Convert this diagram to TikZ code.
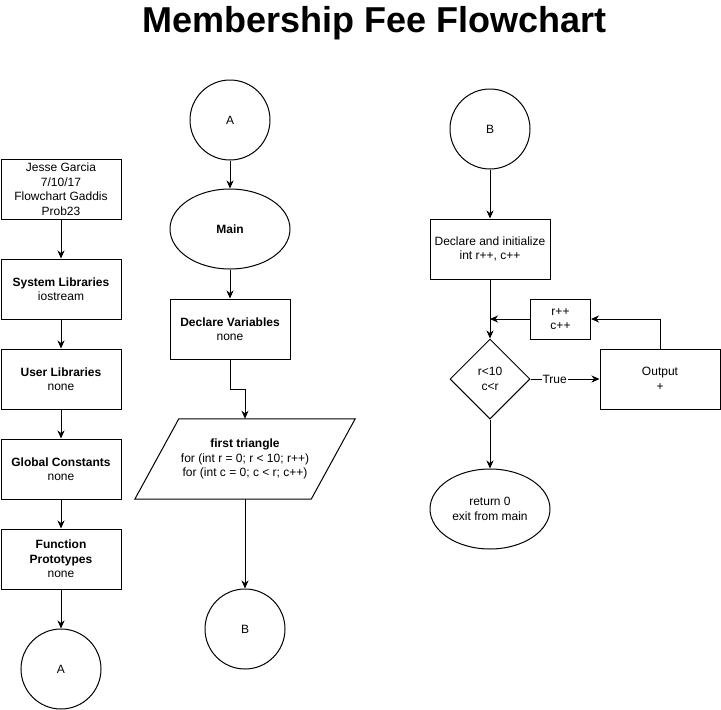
\documentclass[tikz,border=0pt]{standalone}
\usepackage{fontspec}
\setmainfont{Liberation Sans}
\usetikzlibrary{shapes.geometric,arrows.meta,calc}
\begin{document}
\begin{tikzpicture}[x=1pt,y=-1pt,
  every node/.style={font=\fontsize{12}{14.5}\selectfont, align=center, inner sep=0pt},
  box/.style={draw, line width=1pt, minimum width=120pt, minimum height=60pt},
  conn/.style={draw, circle, line width=1pt, minimum size=80pt},
  oval/.style={draw, ellipse, line width=1pt, minimum width=120pt, minimum height=80pt},
  arr/.style={line width=1pt, -{Stealth[length=8pt,width=7pt,inset=2.5pt]}},
  ln/.style={line width=1pt},
]
\useasboundingbox (0,0) rectangle (721,710);

\node[font=\fontsize{36}{40}\selectfont\bfseries] (title) at (374.5,23) {Membership Fee Flowchart};

% left column
\node[box] (hdr) at (61,189) {Jesse Garcia\\7/10/17\\Flowchart Gaddis\\Prob23};
\node[box] (sys) at (61,289) {\textbf{System Libraries}\\iostream};
\node[box] (usr) at (61,379) {\textbf{User Libraries}\\none};
\node[box] (glob) at (61,469) {\textbf{Global Constants}\\none};
\node[box] (func) at (61,559) {\textbf{Function}\\\textbf{Prototypes}\\none};
\node[conn] (A1) at (61,669) {A};

\draw[arr] (hdr) -- (sys);
\draw[arr] (sys) -- (usr);
\draw[arr] (usr) -- (glob);
\draw[arr] (glob) -- (func);
\draw[arr] (func) -- (A1);

% middle column
\node[conn] (A2) at (230,120) {A};
\node[oval] (main) at (230,229) {\textbf{Main}};
\node[box] (dv) at (230,329) {\textbf{Declare Variables}\\none};
\node[minimum width=176pt, minimum height=80pt] (tri) at (245,459)
  {\textbf{first triangle}\\for (int r = 0; r < 10; r++)\\for (int c = 0; c < r; c++)};
\draw[ln] ([xshift=-22pt]tri.south west) -- ([xshift=-22pt]tri.south east)
  -- ([xshift=22pt]tri.north east) -- ([xshift=22pt]tri.north west) -- cycle;
\node[conn] (B1) at (245,629) {B};

\draw[arr] (A2) -- (main);
\draw[arr] (main) -- (dv);
\draw[arr] (dv.south) -- ++(0,30) -| (tri.north);
\draw[arr] (tri.south) -- (B1);

% right column
\node[conn] (B2) at (490,129) {B};
\node[box] (di) at (490,249) {Declare and initialize\\int r++, c++};
\node[draw, diamond, line width=1pt, minimum width=80pt, minimum height=80pt] (dec) at (490,379) {r<10\\c<r};
\node[box, minimum width=60pt, minimum height=40pt] (rc) at (560.5,319) {r++\\c++};
\node[box] (out) at (660,379) {Output\\+};
\node[oval] (ret) at (490,509) {return 0\\exit from main};

\draw[arr] (B2) -- (di);
\draw[arr] (di) -- (dec);
\draw[arr] (dec.east) -- node[pos=0.35, fill=white, inner sep=1pt] {True} (out.west);
\draw[arr] (out.north) |- (rc.east);
\draw[arr] (rc.west) -- (rc.west -| dec.north);
\draw[arr] (dec) -- (ret);
\end{tikzpicture}
\end{document}
